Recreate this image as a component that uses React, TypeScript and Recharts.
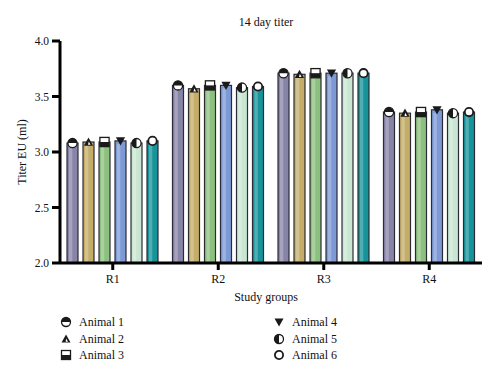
import React from 'react';
import { BarChart, Bar, XAxis, YAxis } from 'recharts';

const categories = ['R1', 'R2', 'R3', 'R4'];
const animal1 = [3.08, 3.60, 3.71, 3.36];
const animal2 = [3.09, 3.57, 3.70, 3.35];
const animal3 = [3.09, 3.60, 3.71, 3.36];
const animal4 = [3.10, 3.60, 3.71, 3.38];
const animal5 = [3.08, 3.58, 3.71, 3.35];
const animal6 = [3.10, 3.59, 3.71, 3.36];
const seriesNames = ['Animal 1', 'Animal 2', 'Animal 3', 'Animal 4', 'Animal 5', 'Animal 6'];
const seriesColors = ['#8884a8', '#c4ad68', '#8cc07e', '#7d9ad6', '#c8e6d1', '#17939a'];
const yTicks = [2.0, 2.5, 3.0, 3.5, 4.0];

const allSeries = [animal1, animal2, animal3, animal4, animal5, animal6];
const data = categories.map((c, i) => {
  const row: any = { group: c };
  allSeries.forEach((s, k) => { row['a' + (k + 1)] = s[i]; });
  return row;
});

const FONT = '"Liberation Serif", "DejaVu Serif", serif';
const INK = '#1a1a1a';
const TXT = '#111';

function Marker({ kind, cx, cy, r }: { kind: number; cx: number; cy: number; r: number }) {
  switch (kind) {
    case 0:
      return (
        <g>
          <circle cx={cx} cy={cy} r={r} fill="#fff" stroke={INK} strokeWidth={1.3} />
          <path d={`M ${cx - r} ${cy} A ${r} ${r} 0 0 1 ${cx + r} ${cy} Z`} fill={INK} />
        </g>
      );
    case 1:
      return (
        <g>
          <polygon points={`${cx},${cy - r} ${cx + r},${cy + r * 0.8} ${cx - r},${cy + r * 0.8}`} fill={INK} />
          <polygon points={`${cx + 0.3},${cy - r * 0.1} ${cx + r * 0.45},${cy + r * 0.6} ${cx - r * 0.1},${cy + r * 0.6}`} fill="#fff" />
        </g>
      );
    case 2:
      return (
        <g>
          <rect x={cx - r} y={cy - r} width={2 * r} height={2 * r} fill="#fff" stroke={INK} strokeWidth={1.3} />
          <rect x={cx - r} y={cy} width={2 * r} height={r} fill={INK} />
        </g>
      );
    case 3:
      return <polygon points={`${cx - r},${cy - r * 0.8} ${cx + r},${cy - r * 0.8} ${cx},${cy + r}`} fill={INK} />;
    case 4:
      return (
        <g>
          <circle cx={cx} cy={cy} r={r} fill="#fff" stroke={INK} strokeWidth={1.3} />
          <path d={`M ${cx} ${cy - r} A ${r} ${r} 0 0 0 ${cx} ${cy + r} Z`} fill={INK} />
        </g>
      );
    default:
      return <circle cx={cx} cy={cy} r={r - 0.4} fill="#fff" stroke={INK} strokeWidth={1.8} />;
  }
}

const makeShape = (k: number) => (props: any) => {
  const { x, y, width, height } = props;
  const color = seriesColors[k];
  const cx = x + width / 2;
  return (
    <g>
      <rect x={x} y={y} width={width} height={height} fill={color} stroke="#2b2b35" strokeWidth={1.2} />
      <rect x={x + 2} y={y + 3} width={width * 0.3} height={Math.max(0, height - 4)} fill="#ffffff" opacity={0.25} />
      <Marker kind={k} cx={cx} cy={y} r={4.6} />
    </g>
  );
};

function LegendItem({ k, x, y }: { k: number; x: number; y: number }) {
  return (
    <div style={{ position: 'absolute', left: x, top: y - 9, height: 18, display: 'flex', alignItems: 'center' }}>
      <svg width={12} height={12} style={{ marginRight: 7 }}>
        <Marker kind={k} cx={6} cy={6} r={4.5} />
      </svg>
      <span style={{ fontFamily: FONT, fontSize: 12, color: TXT }}>{seriesNames[k]}</span>
    </div>
  );
}

export default function App() {
  return (
    <div style={{ position: 'absolute', left: 0, top: 0, width: 500, height: 378, background: '#fff' }}>
      <BarChart
        width={500}
        height={378}
        data={data}
        margin={{ top: 41, right: 18, left: 0, bottom: 85 }}
        barSize={11}
        barGap={5}
      >
        <text x={266} y={26} textAnchor="middle" fontFamily={FONT} fontSize={12} fill={TXT}>14 day titer</text>
        <XAxis
          dataKey="group"
          height={30}
          axisLine={{ stroke: '#000', strokeWidth: 3 }}
          tickLine={{ stroke: '#000', strokeWidth: 3 }}
          tickSize={7}
          tickMargin={4}
          tick={{ fill: TXT, fontSize: 12, fontFamily: FONT }}
          label={{
            content: () => (
              <text x={266} y={301} textAnchor="middle" fontFamily={FONT} fontSize={12} fill={TXT}>Study groups</text>
            ),
          }}
        />
        <YAxis
          width={60}
          domain={[2, 4]}
          ticks={yTicks}
          allowDataOverflow
          tickFormatter={(v: number) => v.toFixed(1)}
          axisLine={{ stroke: '#000', strokeWidth: 3 }}
          tickLine={{ stroke: '#000', strokeWidth: 3 }}
          tickSize={8}
          tickMargin={3}
          tick={{ fill: TXT, fontSize: 11.5, fontFamily: FONT }}
          label={{
            content: () => (
              <text x={26} y={152} textAnchor="middle" fontFamily={FONT} fontSize={12} fill={TXT} transform="rotate(-90 26 152)">Titer EU (ml)</text>
            ),
          }}
        />
        {seriesNames.map((n, k) => (
          <Bar key={n} dataKey={'a' + (k + 1)} name={n} fill={seriesColors[k]} shape={makeShape(k)} isAnimationActive={false} />
        ))}
      </BarChart>
      <LegendItem k={0} x={60} y={322} />
      <LegendItem k={1} x={60} y={339} />
      <LegendItem k={2} x={60} y={355} />
      <LegendItem k={3} x={273} y={322} />
      <LegendItem k={4} x={273} y={339} />
      <LegendItem k={5} x={273} y={355} />
    </div>
  );
}
